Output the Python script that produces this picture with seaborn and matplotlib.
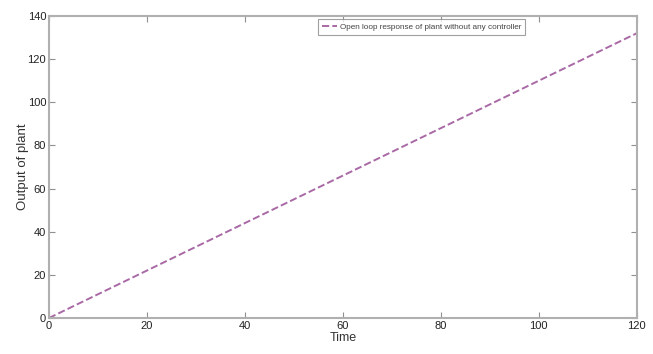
import matplotlib
matplotlib.use("Agg")
import matplotlib.pyplot as plt
import seaborn as sns
import pandas as pd

time = [0, 20, 40, 60, 80, 100, 120]
output = [0, 22, 44, 66, 88, 110, 132]
series_label = "Open loop response of plant without any controller"

sns.set_style("white")
plt.rcParams['font.family'] = ['Liberation Sans Narrow', 'Liberation Sans', 'DejaVu Sans']

df = pd.DataFrame({"Time": time, "Output of plant": output})

fig = plt.figure(figsize=(6.53, 3.54), dpi=100)
ax = fig.add_axes([0.075, 0.1017, 0.9, 0.853])
sns.lineplot(data=df, x="Time", y="Output of plant", ax=ax, color="#9a4f96",
             linestyle="--", linewidth=1.4, label=series_label, alpha=0.85)

ax.set_xlim(0, 120)
ax.set_ylim(0, 140)
ax.set_xticks(range(0, 121, 20))
ax.set_yticks(range(0, 141, 20))
for s in ax.spines.values():
    s.set_color("#b0b0b0")
    s.set_linewidth(1.5)
ax.tick_params(direction="in", length=4, width=0.8, color="#909090",
               labelsize=8, top=True, right=True, left=True, bottom=True,
               labelcolor="#222222", pad=2)
ax.set_xlabel("Time", fontsize=9, color="#333333", labelpad=1)
ax.set_ylabel("Output of plant", fontsize=9.5, color="#333333", labelpad=-1)

leg = ax.legend(loc="upper left", bbox_to_anchor=(0.455, 0.995), fontsize=5.9,
                frameon=True, fancybox=False, handlelength=1.8, borderpad=0.5,
                handletextpad=0.35, borderaxespad=0.2)
leg.get_frame().set_edgecolor("#888888")
leg.get_frame().set_linewidth(0.8)
for t in leg.get_texts():
    t.set_color("#444444")

fig.savefig("out.png", dpi=100)
